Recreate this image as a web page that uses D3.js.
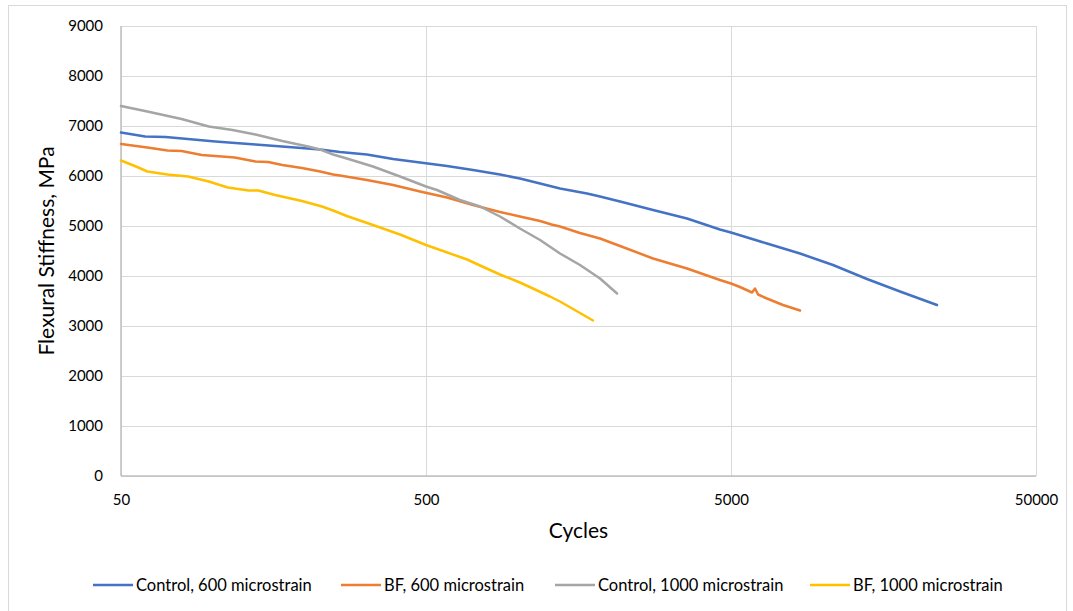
<!DOCTYPE html>
<html>
<head>
<meta charset="utf-8">
<script src="https://cdn.jsdelivr.net/npm/d3@7"></script>
<style>
  html, body { margin: 0; padding: 0; background: #fff; }
  svg { display: block; font-family: Lato, "Open Sans", sans-serif; }
</style>
</head>
<body>
<svg id="chart" width="1073" height="611"></svg>
<script>
// Fatigue test: flexural stiffness vs. load cycles (log scale)
const seriesNames = [
  "Control, 600 microstrain",
  "BF, 600 microstrain",
  "Control, 1000 microstrain",
  "BF, 1000 microstrain"
];
const seriesColors = ["#4472C4", "#ED7D31", "#A5A5A5", "#FFC000"];

const control600Cycles = [50, 60, 70, 102, 138, 186, 225, 261, 320, 390, 478, 586, 713, 874, 1016, 1183, 1375, 1686, 1860, 2164, 2776, 3587, 4600, 5000, 6561, 8419, 10800, 13960, 17910, 23680];
const control600Stiff  = [6870, 6790, 6780, 6690, 6630, 6570, 6530, 6480, 6430, 6340, 6270, 6200, 6120, 6030, 5950, 5850, 5750, 5650, 5590, 5490, 5320, 5150, 4930, 4870, 4650, 4450, 4220, 3940, 3690, 3420];

const bf600Cycles = [50, 61, 71, 79, 92, 107, 118, 138, 152, 169, 196, 225, 248, 261, 320, 390, 478, 586, 713, 874, 1016, 1183, 1290, 1375, 1599, 1860, 2164, 2776, 3587, 4600, 5000, 5350, 5860, 5995, 6132, 6561, 7403, 8419];
const bf600Stiff  = [6640, 6570, 6510, 6500, 6420, 6390, 6370, 6290, 6280, 6220, 6160, 6090, 6030, 6010, 5920, 5820, 5690, 5570, 5420, 5280, 5190, 5100, 5030, 4990, 4860, 4750, 4600, 4350, 4150, 3920, 3850, 3780, 3670, 3750, 3630, 3550, 3420, 3310];

const control1000Cycles = [50, 61, 79, 97, 116, 138, 169, 205, 225, 248, 275, 335, 411, 500, 543, 646, 752, 874, 1016, 1183, 1375, 1599, 1860, 2115];
const control1000Stiff  = [7400, 7290, 7140, 6990, 6920, 6830, 6700, 6590, 6530, 6430, 6350, 6190, 5990, 5790, 5720, 5520, 5390, 5190, 4950, 4720, 4450, 4220, 3950, 3650];

const bf1000Cycles = [50, 56, 61, 71, 83, 97, 112, 131, 141, 160, 196, 228, 248, 275, 335, 411, 500, 682, 752, 874, 1016, 1121, 1275, 1375, 1764];
const bf1000Stiff  = [6310, 6190, 6090, 6030, 5990, 5890, 5770, 5710, 5710, 5620, 5500, 5390, 5310, 5200, 5020, 4830, 4620, 4330, 4210, 4030, 3870, 3750, 3590, 3490, 3110];

const xTickValues = [50, 500, 5000, 50000];
const yTickValues = [0, 1000, 2000, 3000, 4000, 5000, 6000, 7000, 8000, 9000];
const xTitle = "Cycles";
const yTitle = "Flexural Stiffness, MPa";

const series = [
  { cycles: control600Cycles, stiff: control600Stiff },
  { cycles: bf600Cycles, stiff: bf600Stiff },
  { cycles: control1000Cycles, stiff: control1000Stiff },
  { cycles: bf1000Cycles, stiff: bf1000Stiff }
].map((s, i) => ({
  name: seriesNames[i],
  color: seriesColors[i],
  points: s.cycles.map((c, j) => ({ c, v: s.stiff[j] }))
}));

const svg = d3.select("#chart");
const plot = { left: 121, right: 1036, top: 26, bottom: 476 };

// chart area frame
svg.append("rect")
  .attr("x", 8.5).attr("y", 5.5)
  .attr("width", 1058).attr("height", 612)
  .attr("fill", "#fff").attr("stroke", "#d9d9d9").attr("stroke-width", 1);

const x = d3.scaleLog().domain([50, 50000]).range([plot.left, plot.right]);
const y = d3.scaleLinear().domain([0, 9000]).range([plot.bottom, plot.top]);

// horizontal gridlines
svg.append("g")
  .attr("transform", `translate(${plot.left},0)`)
  .call(d3.axisLeft(y).tickValues(yTickValues).tickSize(-(plot.right - plot.left)).tickFormat(""))
  .call(g => g.select(".domain").remove())
  .call(g => g.selectAll("line").attr("stroke", "#d9d9d9").attr("stroke-width", 1)
    .attr("shape-rendering", "crispEdges"));

// vertical gridlines
svg.append("g")
  .attr("transform", `translate(0,${plot.bottom})`)
  .call(d3.axisBottom(x).tickValues(xTickValues).tickSize(-(plot.bottom - plot.top)).tickFormat(""))
  .call(g => g.select(".domain").remove())
  .call(g => g.selectAll("line").attr("stroke", "#d9d9d9").attr("stroke-width", 1)
    .attr("shape-rendering", "crispEdges"));

// axis lines
svg.append("line")
  .attr("x1", plot.left).attr("x2", plot.left)
  .attr("y1", plot.top).attr("y2", plot.bottom)
  .attr("stroke", "#bfbfbf").attr("stroke-width", 1.5);
svg.append("line")
  .attr("x1", plot.left).attr("x2", plot.right)
  .attr("y1", plot.bottom).attr("y2", plot.bottom)
  .attr("stroke", "#bfbfbf").attr("stroke-width", 1.5);

// y tick labels
svg.append("g")
  .attr("transform", `translate(${plot.left - 15},0)`)
  .call(d3.axisLeft(y).tickValues(yTickValues).tickSize(0).tickFormat(d3.format("d")))
  .call(g => g.select(".domain").remove())
  .call(g => g.selectAll("text").attr("font-size", 15).attr("fill", "#000")
    .attr("font-family", "Lato, 'Open Sans', sans-serif"));

// x tick labels
svg.append("g")
  .attr("transform", `translate(0,${plot.bottom + 15})`)
  .call(d3.axisBottom(x).tickValues(xTickValues).tickSize(0).tickFormat(d3.format("d")))
  .call(g => g.select(".domain").remove())
  .call(g => g.selectAll("text").attr("font-size", 15).attr("fill", "#000")
    .attr("font-family", "Lato, 'Open Sans', sans-serif"));

// axis titles
svg.append("text")
  .attr("x", (plot.left + plot.right) / 2).attr("y", 538)
  .attr("text-anchor", "middle").attr("font-size", 21).attr("fill", "#000")
  .text(xTitle);
svg.append("text")
  .attr("transform", `translate(54,${(plot.top + plot.bottom) / 2}) rotate(-90)`)
  .attr("text-anchor", "middle").attr("font-size", 21).attr("fill", "#000")
  .text(yTitle);

// series lines
const line = d3.line().x(d => x(d.c)).y(d => y(d.v)).curve(d3.curveLinear);
svg.append("g").selectAll("path")
  .data(series)
  .join("path")
  .attr("d", d => line(d.points))
  .attr("fill", "none")
  .attr("stroke", d => d.color)
  .attr("stroke-width", 2.5)
  .attr("stroke-linejoin", "round")
  .attr("stroke-linecap", "round");

// legend
const legendStarts = [93, 341, 555, 810];
const legend = svg.append("g").selectAll("g")
  .data(series)
  .join("g")
  .attr("transform", (d, i) => `translate(${legendStarts[i]},585)`);
legend.append("line")
  .attr("x1", 0).attr("x2", 40).attr("y1", 0).attr("y2", 0)
  .attr("stroke", d => d.color).attr("stroke-width", 2.5);
legend.append("text")
  .attr("x", 43).attr("y", 5.5)
  .attr("font-size", 16.5).attr("fill", "#000")
  .text(d => d.name);
</script>
</body>
</html>
